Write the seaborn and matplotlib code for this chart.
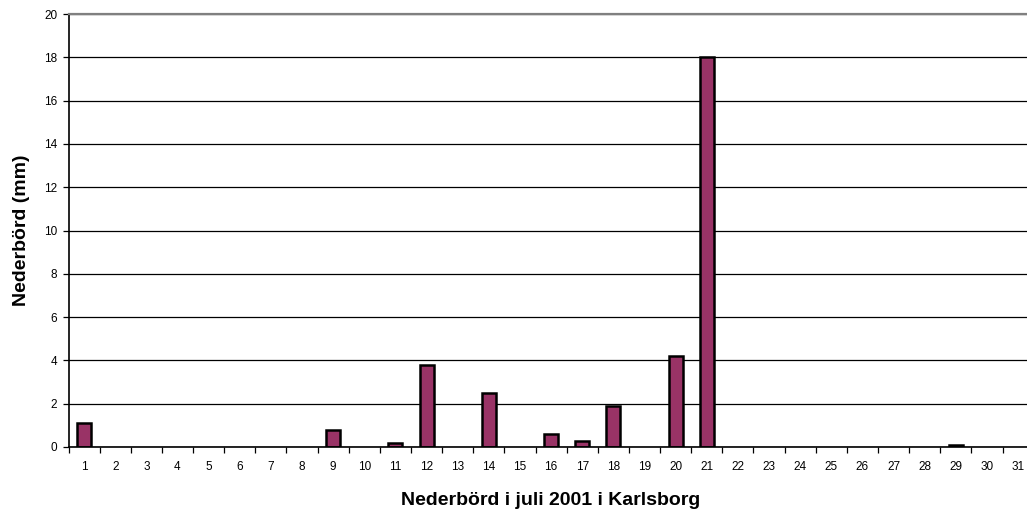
import matplotlib
matplotlib.use("Agg")
import matplotlib.pyplot as plt
from matplotlib.ticker import MultipleLocator, FixedLocator
import seaborn as sns
import pandas as pd

# Daily precipitation in Karlsborg, July 2001 (mm)
days = [str(d) for d in range(1, 32)]
rain_mm = [1.1, 0, 0, 0, 0, 0, 0, 0, 0.8, 0, 0.2, 3.8, 0, 2.5, 0, 0.6,
           0.3, 1.9, 0, 4.2, 18.0, 0, 0, 0, 0, 0, 0, 0, 0.1, 0, 0]
y_label = "Nederbörd (mm)"
x_label = "Nederbörd i juli 2001 i Karlsborg"

sns.set_theme(style="white")
plt.rcParams["font.family"] = ["Liberation Sans", "DejaVu Sans"]
plt.rcParams["text.color"] = "black"
plt.rcParams["axes.labelcolor"] = "black"

df = pd.DataFrame({"dag": days, "mm": rain_mm})

fig = plt.figure(figsize=(10.27, 5.17), dpi=100)
ax = fig.add_axes([0.0667, 0.1354, 0.9398, 0.8375])

sns.barplot(data=df, x="dag", y="mm", order=days, color="#993366",
            saturation=1, width=0.45, edgecolor="black", linewidth=1.8, ax=ax)

# dry days get no visible outline
for patch in ax.patches:
    if patch.get_height() == 0:
        patch.set_visible(False)

ax.set_xlim(-0.5, len(days) - 0.5)
ax.set_ylim(0, 20)
ax.yaxis.set_major_locator(MultipleLocator(2))
ax.set_axisbelow(True)
ax.grid(axis="y", color="black", linewidth=0.9)
ax.grid(axis="x", visible=False)

# tick marks between categories, labels centred under bars
ax.xaxis.set_minor_locator(FixedLocator([i - 0.5 for i in range(len(days) + 1)]))
ax.tick_params(axis="x", which="major", length=0, labelsize=8.5, pad=10,
               colors="black")
ax.tick_params(axis="x", which="minor", length=4, width=0.9, direction="out",
               bottom=True, color="black")
ax.tick_params(axis="y", length=4, width=0.9, direction="out", left=True,
               labelsize=8.5, colors="black", pad=4)

for side in ("left", "bottom"):
    ax.spines[side].set_color("black")
    ax.spines[side].set_linewidth(1.2)
for side in ("top", "right"):
    ax.spines[side].set_color("#808080")
    ax.spines[side].set_linewidth(1.6)

ax.set_xlabel(x_label, fontsize=14, fontweight="bold", labelpad=14)
ax.set_ylabel(y_label, fontsize=14, fontweight="bold", labelpad=10)

fig.savefig("out.png", dpi=100)
